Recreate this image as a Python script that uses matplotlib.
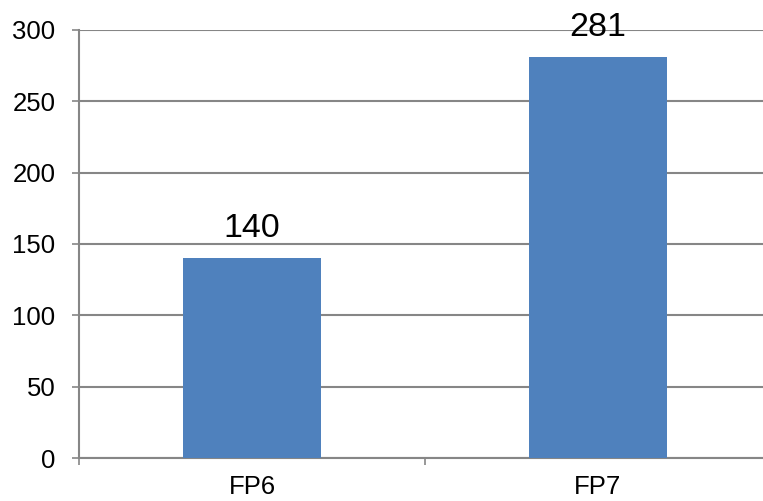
import matplotlib
matplotlib.use("Agg")
import matplotlib.pyplot as plt

categories = ["FP6", "FP7"]
values = [140, 281]
yticks = [0, 50, 100, 150, 200, 250, 300]

plt.rcParams['font.family'] = ['Liberation Sans', 'DejaVu Sans']

fig = plt.figure(figsize=(7.63, 5.01), dpi=100)
ax = fig.add_axes([79/763, 43/501, 692/763, 428/501])

grid_c = '#868686'
x = list(range(len(categories)))
bars = ax.bar(x, values, width=0.4, color='#4F81BD', zorder=3)
for xi, v in zip(x, values):
    ax.annotate(str(v), (xi, v), xytext=(0, 10), textcoords='offset points',
                ha='center', va='bottom', fontsize=24.5, color='black', zorder=4)

ax.set_xlim(-0.5, len(categories) - 0.5)
ax.set_ylim(0, 300)
ax.set_yticks(yticks)
ax.set_yticklabels([str(t) for t in yticks])
ax.set_xticks([i - 0.5 for i in range(len(categories) + 1)])
ax.set_xticklabels([])
ax.set_xticks(x, minor=True)
ax.set_xticklabels(categories, minor=True)
ax.tick_params(axis='x', which='minor', length=0, pad=12, labelsize=18.5)
ax.tick_params(axis='x', which='major', length=5, width=1.2, color=grid_c, direction='out')
ax.tick_params(axis='y', length=5, width=1.2, color=grid_c, pad=12, labelsize=18.5)

ax.grid(axis='y', color=grid_c, linewidth=1.5, zorder=0)
for s in ['top', 'right']:
    ax.spines[s].set_visible(False)
for s in ['left', 'bottom']:
    ax.spines[s].set_color(grid_c)
    ax.spines[s].set_linewidth(1.5)
    ax.spines[s].set_zorder(2)

fig.savefig('out.png', dpi=100)
